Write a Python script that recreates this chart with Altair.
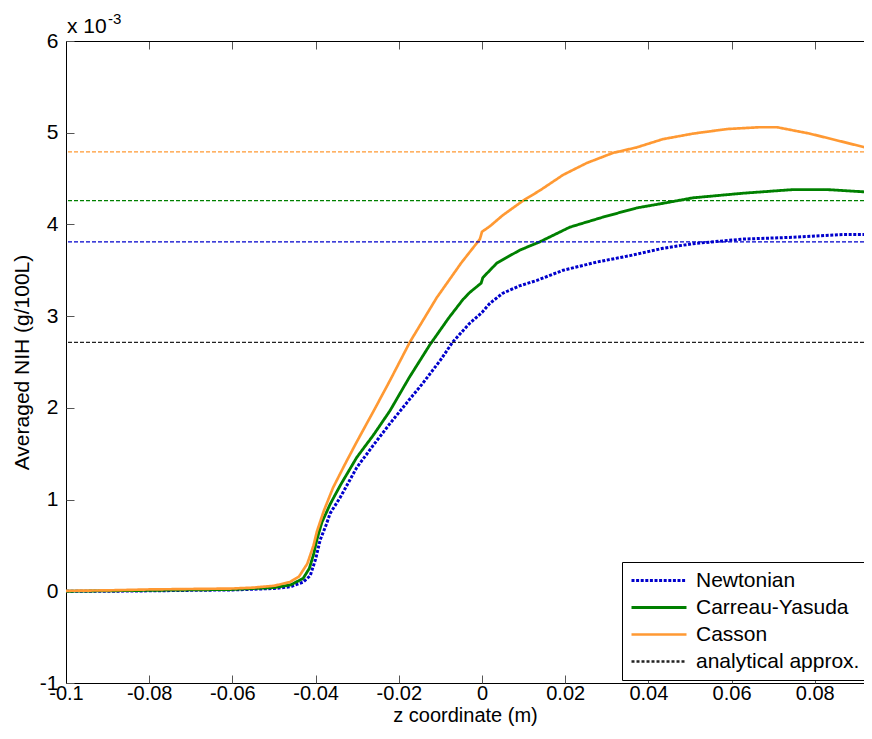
import altair as alt
import pandas as pd

# ---------------- data (values in units of 10^-3 g/100L) ----------------
series_names = ["Newtonian", "Carreau-Yasuda", "Casson", "analytical approx."]
series_colors = ["#0000CC", "#008000", "#FF9933", "#222222"]

newt_z = [-0.1, -0.09, -0.08, -0.07, -0.06, -0.05, -0.046, -0.043, -0.0413, -0.04,
          -0.0389, -0.0375, -0.0365, -0.034, -0.0301, -0.026, -0.0221, -0.018, -0.0142,
          -0.01, -0.007, -0.003, 0.0, 0.0019, 0.005, 0.009, 0.0132, 0.0195, 0.0276,
          0.0356, 0.0435, 0.0507, 0.0627, 0.0748, 0.0868, 0.0938]
newt_v = [0.0, 0.0, 0.005, 0.01, 0.015, 0.03, 0.05, 0.1, 0.17, 0.35,
          0.56, 0.72, 0.85, 1.03, 1.35, 1.6, 1.83, 2.06, 2.27,
          2.52, 2.72, 2.92, 3.04, 3.14, 3.25, 3.33, 3.39, 3.50, 3.59,
          3.66, 3.74, 3.79, 3.84, 3.86, 3.89, 3.89]

cy_z = [-0.1, -0.09, -0.08, -0.07, -0.06, -0.05, -0.046, -0.043, -0.0415, -0.0405,
        -0.0397, -0.0385, -0.0365, -0.034, -0.0301, -0.026, -0.0221, -0.0175, -0.0125,
        -0.008, -0.0046, -0.0029, -0.0002, 0.0002, 0.0036, 0.0091, 0.0139, 0.0211,
        0.0291, 0.0372, 0.0435, 0.0507, 0.0627, 0.0748, 0.0829, 0.0938]
cy_v = [0.0, 0.005, 0.01, 0.015, 0.02, 0.04, 0.07, 0.14, 0.25, 0.4,
        0.56, 0.75, 0.95, 1.16, 1.46, 1.71, 1.97, 2.33, 2.69,
        2.98, 3.18, 3.26, 3.36, 3.42, 3.58, 3.72, 3.81, 3.97,
        4.08, 4.18, 4.23, 4.29, 4.34, 4.38, 4.38, 4.35]

cas_z = [-0.1, -0.09, -0.08, -0.07, -0.06, -0.055, -0.05, -0.0462, -0.044, -0.042,
         -0.0405, -0.0397, -0.038, -0.0358, -0.033, -0.0301, -0.026, -0.0221, -0.0173,
         -0.0109, -0.005, -0.0005, 0.0, 0.0019, 0.005, 0.0099, 0.0139, 0.0195, 0.0252,
         0.0315, 0.0372, 0.0435, 0.0507, 0.0589, 0.0668, 0.0709, 0.0788, 0.0868, 0.0938]
cas_v = [0.005, 0.01, 0.02, 0.025, 0.03, 0.04, 0.06, 0.1, 0.16, 0.3,
         0.5, 0.65, 0.88, 1.13, 1.38, 1.63, 1.97, 2.3, 2.72,
         3.2, 3.58, 3.84, 3.92, 3.98, 4.1, 4.26, 4.37, 4.54, 4.67,
         4.78, 4.84, 4.93, 4.99, 5.04, 5.06, 5.06, 4.99, 4.90, 4.82]

# horizontal reference levels (same order as series_names)
hline_values = [3.81, 4.26, 4.79, 2.715]

x_ticks = [-0.1, -0.08, -0.06, -0.04, -0.02, 0, 0.02, 0.04, 0.06, 0.08]
y_ticks = [-1, 0, 1, 2, 3, 4, 5, 6]
x_domain = [-0.1, 0.09183]
y_domain = [-1, 6]
exponent_base = ["x 10"]
exponent_power = ["-3"]

# ---------------- tables ----------------
rows = []
for name, zs, vs in [(series_names[0], newt_z, newt_v),
                     (series_names[1], cy_z, cy_v),
                     (series_names[2], cas_z, cas_v)]:
    for z, v in zip(zs, vs):
        rows.append({"z": z, "nih": v, "series": name})
curves = pd.DataFrame(rows)
hlines = pd.DataFrame({"series": series_names, "value": hline_values})

FONT = "Liberation Sans"
FS = 21
FSX = 20

legend = alt.Legend(
    title=None, orient="none", legendX=556, legendY=521, direction="vertical",
    fillColor="white", strokeColor="black", padding=8, cornerRadius=0,
    symbolType="stroke", symbolSize=3025, labelFontSize=FS, labelFont=FONT,
    labelColor="black", rowPadding=5, clipHeight=21, labelOffset=8, labelLimit=400,
)

color_enc = alt.Color("series:N", scale=alt.Scale(domain=series_names, range=series_colors),
                      legend=legend)
dash_enc = alt.StrokeDash("series:N",
                          scale=alt.Scale(domain=series_names,
                                          range=[[3, 1.6], [1, 0], [1, 0], [3, 2]]),
                          legend=legend)
width_enc = alt.StrokeWidth("series:N",
                            scale=alt.Scale(domain=series_names, range=[3, 2.5, 2.5, 1.2]),
                            legend=legend)

x_scale = alt.Scale(domain=x_domain, nice=False, zero=False)
y_scale = alt.Scale(domain=y_domain, nice=False, zero=False)

main_x_axis = alt.Axis(orient="bottom", values=x_ticks, labelExpr="'' + datum.value",
                       ticks=False, domain=True, domainColor="black", domainWidth=1,
                       grid=False, labelFontSize=FSX, labelFont=FONT, labelColor="black",
                       labelPadding=0, labelFlush=False, labelOverlap=False,
                       title="z coordinate (m)", titleFontSize=FSX, titleFont=FONT,
                       titleFontWeight="normal", titleColor="black",
                       titleBaseline="alphabetic", titleY=38.5)
main_y_axis = alt.Axis(orient="left", values=y_ticks, labelExpr="'' + datum.value",
                       ticks=False, domain=True, domainColor="black", domainWidth=1,
                       grid=False, labelFontSize=FS, labelFont=FONT, labelColor="black",
                       labelPadding=8, labelFlush=False, labelOverlap=False,
                       title="Averaged NIH (g/100L)", titleFontSize=FS, titleFont=FONT,
                       titleFontWeight="normal", titleColor="black", titlePadding=7)


def tick_axis(orient, values):
    return alt.Axis(orient=orient, values=values, labels=False, domain=False, grid=False,
                    ticks=True, tickSize=8, offset=-8, tickColor="#555555", tickWidth=1,
                    title=None)


top_line_axis = alt.Axis(orient="top", labels=False, ticks=False, grid=False, domain=True,
                         domainColor="black", domainWidth=1, title=None)

lines = alt.Chart(curves).mark_line(strokeCap="butt", clip=True).encode(
    x=alt.X("z:Q", scale=x_scale, axis=main_x_axis),
    y=alt.Y("nih:Q", scale=y_scale, axis=main_y_axis),
    color=color_enc, strokeDash=dash_enc, strokeWidth=width_enc,
)

refs = alt.Chart(hlines).mark_rule(strokeDash=[4, 2], strokeWidth=1.2).encode(
    y=alt.Y("value:Q", scale=y_scale, axis=tick_axis("left", y_ticks)),
    color=color_enc,
)

bottom_ticks = alt.Chart(curves).mark_line(opacity=0, clip=True).encode(
    x=alt.X("z:Q", scale=x_scale, axis=tick_axis("bottom", x_ticks)),
    y=alt.Y("nih:Q", scale=y_scale, axis=None),
)
top_ticks = alt.Chart(curves).mark_line(opacity=0, clip=True).encode(
    x=alt.X("z:Q", scale=x_scale, axis=tick_axis("top", x_ticks)),
    y=alt.Y("nih:Q", scale=y_scale, axis=None),
)
top_line = alt.Chart(curves).mark_line(opacity=0, clip=True).encode(
    x=alt.X("z:Q", scale=x_scale, axis=top_line_axis),
    y=alt.Y("nih:Q", scale=y_scale, axis=None),
)

exp_base = alt.Chart(pd.DataFrame({"t": exponent_base})).mark_text(
    align="left", baseline="alphabetic", font=FONT, fontSize=21, color="black"
).encode(x=alt.value(1), y=alt.value(-8), text="t:N")
exp_pow = alt.Chart(pd.DataFrame({"t": exponent_power})).mark_text(
    align="left", baseline="alphabetic", font=FONT, fontSize=15, color="black"
).encode(x=alt.value(42), y=alt.value(-17), text="t:N")

chart = alt.layer(
    lines, refs, bottom_ticks, top_ticks, top_line, exp_base, exp_pow
).resolve_axis(x="independent", y="independent").resolve_scale(
    x="shared", y="shared"
).properties(
    width=798, height=642,
    autosize=alt.AutoSizeParams(type="none"),
    padding={"left": 58, "top": 33, "right": 0, "bottom": 43},
).configure_view(stroke=None).configure(background="white")

chart.save("out.html", embed_options={"renderer": "svg", "actions": False})
